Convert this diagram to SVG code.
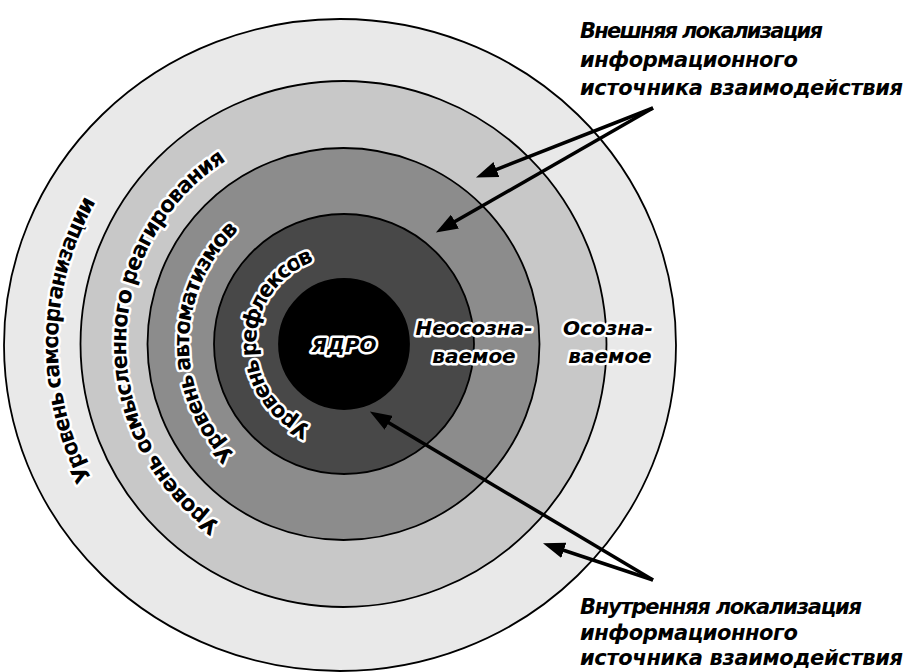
<svg xmlns="http://www.w3.org/2000/svg" width="906" height="672" viewBox="0 0 906 672">
  <style>
    .ring { stroke: #000; stroke-width: 1.8; }
    .lbl { font-family: "DejaVu Sans", "Liberation Sans", sans-serif; font-weight: bold; font-size: 20px; fill: #000; stroke: #fff; stroke-width: 5; stroke-linejoin: round; paint-order: stroke fill; }
    .arc { font-size: 22px; }
    .it { font-style: italic; }
    .note { font-family: "DejaVu Sans", "Liberation Sans", sans-serif; font-weight: bold; font-style: italic; font-size: 21px; fill: #000; }
    .conn { stroke: #000; stroke-width: 3.5; fill: none; marker-end: url(#head); }
  </style>
  <defs>
    <marker id="head" viewBox="0 0 22 16" refX="1" refY="8" markerWidth="22" markerHeight="16" markerUnits="userSpaceOnUse" orient="auto">
      <path d="M0,0 L22,8 L0,16 z" fill="#000"/>
    </marker>
    <path id="arc1" d="M344,630 A286,286 0 0 1 344,58"/>
    <path id="arc2" d="M344,562 A218,218 0 0 1 344,126"/>
    <path id="arc3" d="M344,499 A155,155 0 0 1 344,189"/>
    <path id="arc4" d="M344,432 A88,88 0 0 1 344,256"/>
  </defs>
  <rect width="906" height="672" fill="#fff"/>

  <g id="level-selforganization">
    <ellipse class="ring" cx="340" cy="345" rx="336" ry="326" fill="#e9e9e9"/>
  </g>
  <g id="level-conscious">
    <circle class="ring" cx="343.5" cy="344" r="263" fill="#c8c8c8"/>
  </g>
  <g id="level-automatisms">
    <circle class="ring" cx="343.5" cy="344" r="196" fill="#8c8c8c"/>
  </g>
  <g id="level-reflexes">
    <circle class="ring" cx="344" cy="344" r="130" fill="#484848"/>
  </g>
  <g id="core">
    <circle class="ring" cx="344" cy="344" r="65" fill="#000"/>
    <text class="lbl it" x="344" y="352" text-anchor="middle" font-size="21">ЯДРО</text>
  </g>

  <g id="ring-labels">
    <text class="lbl arc"><textPath href="#arc1" startOffset="50.5%" text-anchor="middle" textLength="289">Уровень самоорганизации</textPath></text>
    <text class="lbl arc"><textPath href="#arc2" startOffset="50.5%" text-anchor="middle" textLength="429">Уровень осмысленного реагирования</textPath></text>
    <text class="lbl arc"><textPath href="#arc3" startOffset="50.5%" text-anchor="middle" textLength="251">Уровень автоматизмов</textPath></text>
    <text class="lbl arc"><textPath href="#arc4" startOffset="50.5%" text-anchor="middle" textLength="212">Уровень рефлексов</textPath></text>
  </g>

  <g id="unconscious-label">
    <text class="lbl it" x="474" y="335" text-anchor="middle">Неосозна-</text>
    <text class="lbl it" x="474" y="363" text-anchor="middle">ваемое</text>
  </g>
  <g id="conscious-label">
    <text class="lbl it" x="608" y="335" text-anchor="middle">Осозна-</text>
    <text class="lbl it" x="610" y="363" text-anchor="middle">ваемое</text>
  </g>

  <g id="external-note">
    <text class="note" x="580" y="38" textLength="243">Внешняя локализация</text>
    <text class="note" x="580" y="66.5" textLength="218">информационного</text>
    <text class="note" x="580" y="95" textLength="323">источника взаимодействия</text>
  </g>
  <g id="internal-note">
    <text class="note" x="580" y="614" textLength="282">Внутренняя локализация</text>
    <text class="note" x="580" y="640" textLength="218">информационного</text>
    <text class="note" x="580" y="665" textLength="323">источника взаимодействия</text>
  </g>

  <g id="connectors">
    <line class="conn" x1="653" y1="108" x2="495.5" y2="169.9"/>
    <line class="conn" x1="653" y1="108" x2="454.1" y2="222.1"/>
    <line class="conn" x1="653" y1="580" x2="387.9" y2="422.3"/>
    <line class="conn" x1="653" y1="580" x2="562.9" y2="550"/>
  </g>
</svg>
